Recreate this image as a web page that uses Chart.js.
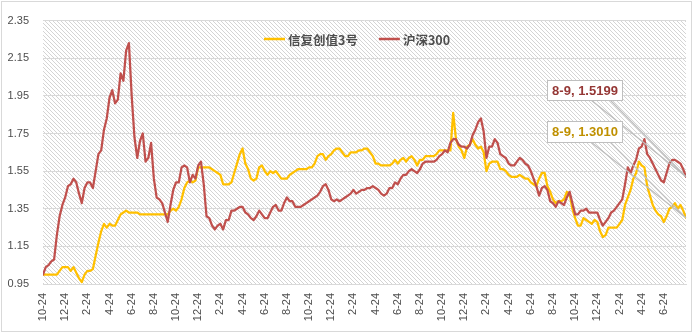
<!DOCTYPE html>
<html>
<head>
<meta charset="utf-8">
<script src="https://cdn.jsdelivr.net/npm/chart.js@4.4.1/dist/chart.umd.min.js"></script>
<style>
  body { margin: 0; background: #fff; }
</style>
</head>
<body>
<canvas id="navChart" width="694" height="334"></canvas>
<script>
// weekly net value, both rebased to 1.00 on the first date
const fundName = "信复创值3号";
const indexName = "沪深300";

const fundNav = [
  1.00, 1.00, 1.00, 1.00, 1.00, 1.00, 1.02, 1.04, 1.04, 1.04,
  1.02, 1.04, 1.01, 0.98, 0.96, 1.00, 1.02, 1.02, 1.03, 1.10,
  1.17, 1.23, 1.27, 1.25, 1.27, 1.26, 1.26, 1.29, 1.32, 1.33,
  1.34, 1.33, 1.33, 1.33, 1.33, 1.32, 1.32, 1.32, 1.32, 1.32,
  1.32, 1.32, 1.32, 1.32, 1.32, 1.32, 1.34, 1.35, 1.34, 1.36,
  1.40, 1.46, 1.49, 1.50, 1.49, 1.50, 1.57, 1.57, 1.57, 1.57,
  1.57, 1.56, 1.55, 1.54, 1.53, 1.48, 1.48, 1.48, 1.49, 1.54,
  1.59, 1.64, 1.67, 1.59, 1.56, 1.51, 1.50, 1.51, 1.57, 1.58,
  1.55, 1.53, 1.55, 1.54, 1.55, 1.53, 1.51, 1.51, 1.51, 1.53,
  1.54, 1.55, 1.56, 1.56, 1.56, 1.56, 1.57, 1.57, 1.59, 1.63,
  1.64, 1.64, 1.61, 1.63, 1.64, 1.66, 1.67, 1.67, 1.65, 1.63,
  1.63, 1.65, 1.65, 1.65, 1.66, 1.66, 1.67, 1.67, 1.65, 1.63,
  1.59, 1.59, 1.58, 1.58, 1.58, 1.58, 1.59, 1.61, 1.59, 1.61,
  1.62, 1.60, 1.62, 1.63, 1.61, 1.58, 1.61, 1.61, 1.63, 1.63,
  1.63, 1.63, 1.64, 1.66, 1.66, 1.66, 1.66, 1.66, 1.86, 1.72,
  1.68, 1.66, 1.62, 1.68, 1.69, 1.72, 1.69, 1.67, 1.68, 1.65,
  1.55, 1.59, 1.60, 1.60, 1.60, 1.56, 1.56, 1.55, 1.53, 1.52,
  1.52, 1.52, 1.53, 1.52, 1.51, 1.51, 1.49, 1.48, 1.47, 1.51,
  1.54, 1.54, 1.47, 1.44, 1.40, 1.38, 1.39, 1.39, 1.40, 1.44,
  1.43, 1.35, 1.30, 1.26, 1.26, 1.30, 1.29, 1.28, 1.27, 1.29,
  1.28, 1.23, 1.20, 1.21, 1.25, 1.25, 1.25, 1.25, 1.27, 1.29,
  1.37, 1.41, 1.45, 1.51, 1.54, 1.60, 1.58, 1.57, 1.47, 1.42,
  1.37, 1.34, 1.32, 1.31, 1.28, 1.31, 1.35, 1.36, 1.38, 1.35,
  1.37, 1.34, 1.3010
];

const indexNav = [
  1.00, 1.04, 1.05, 1.07, 1.08, 1.21, 1.31, 1.37, 1.41, 1.47,
  1.48, 1.51, 1.49, 1.43, 1.38, 1.46, 1.49, 1.49, 1.46, 1.55,
  1.64, 1.66, 1.77, 1.83, 1.94, 1.98, 1.91, 1.93, 2.07, 2.03,
  2.19, 2.23, 1.95, 1.73, 1.62, 1.71, 1.75, 1.60, 1.62, 1.70,
  1.51, 1.41, 1.40, 1.38, 1.33, 1.28, 1.37, 1.45, 1.49, 1.49,
  1.57, 1.58, 1.57, 1.49, 1.53, 1.51, 1.58, 1.60, 1.48, 1.31,
  1.30, 1.26, 1.24, 1.26, 1.27, 1.24, 1.29, 1.29, 1.34, 1.34,
  1.35, 1.36, 1.36, 1.33, 1.32, 1.30, 1.29, 1.31, 1.34, 1.32,
  1.30, 1.30, 1.33, 1.36, 1.37, 1.34, 1.34, 1.38, 1.41, 1.39,
  1.39, 1.36, 1.36, 1.36, 1.37, 1.38, 1.39, 1.40, 1.41, 1.42,
  1.44, 1.47, 1.48, 1.45, 1.40, 1.39, 1.40, 1.39, 1.40, 1.41,
  1.42, 1.43, 1.45, 1.43, 1.44, 1.45, 1.45, 1.46, 1.46, 1.47,
  1.46, 1.45, 1.43, 1.42, 1.43, 1.46, 1.46, 1.49, 1.48, 1.51,
  1.53, 1.53, 1.55, 1.56, 1.55, 1.54, 1.56, 1.59, 1.60, 1.60,
  1.60, 1.60, 1.61, 1.63, 1.64, 1.66, 1.65, 1.70, 1.72, 1.72,
  1.69, 1.68, 1.68, 1.67, 1.69, 1.74, 1.77, 1.81, 1.83, 1.76,
  1.62, 1.68, 1.68, 1.72, 1.70, 1.64, 1.63, 1.62, 1.59, 1.58,
  1.58, 1.60, 1.62, 1.61, 1.59, 1.58, 1.55, 1.51, 1.47, 1.42,
  1.46, 1.47, 1.45, 1.39, 1.38, 1.36, 1.39, 1.38, 1.37, 1.41,
  1.44, 1.38, 1.32, 1.32, 1.34, 1.34, 1.35, 1.33, 1.33, 1.33,
  1.33, 1.29, 1.26, 1.28, 1.30, 1.33, 1.34, 1.36, 1.38, 1.40,
  1.48, 1.57, 1.54, 1.58, 1.61, 1.67, 1.68, 1.72, 1.64, 1.62,
  1.59, 1.56, 1.53, 1.50, 1.49, 1.54, 1.59, 1.61, 1.61, 1.60,
  1.59, 1.56, 1.5199
];

// x runs in months from the first date; one point per quarter month
const monthsPerPoint = 0.25;

// date labels, one every two months
const tickLabels = [
  "10-24", "12-24", "2-24", "4-24", "6-24", "8-24",
  "10-24", "12-24", "2-24", "4-24", "6-24", "8-24",
  "10-24", "12-24", "2-24", "4-24", "6-24", "8-24",
  "10-24", "12-24", "2-24", "4-24", "6-24", "8-24",
  "10-24", "12-24", "2-24", "4-24", "6-24"
];
const monthsPerTick = 2;
const lastDateLabel = "8-9";

const yTicks = [0.95, 1.15, 1.35, 1.55, 1.75, 1.95, 2.15, 2.35];

const toPoints = (values) => values.map((v, i) => ({ x: i * monthsPerPoint, y: v }));

const colors = { fund: "#FFC000", index: "#C0504D" };

const decorations = {
  id: "decorations",
  beforeDraw(chart) {
    // diagonal hatch behind the plot, written pixel by pixel
    const { ctx, chartArea: a } = chart;
    const left = Math.round(a.left), top = Math.round(a.top);
    const w = Math.round(a.right) - left, h = Math.round(a.bottom) - top;
    const img = ctx.createImageData(w, h);
    for (let y = 0; y < h; y++) {
      for (let x = 0; x < w; x++) {
        const k = (y * w + x) * 4;
        const onStripe = ((x + left) - (y + top)) % 4 === 0;
        const c = onStripe ? 212 : 255;
        img.data[k] = c;
        img.data[k + 1] = c;
        img.data[k + 2] = c;
        img.data[k + 3] = 255;
      }
    }
    ctx.putImageData(img, left, top);
  },
  afterDraw(chart) {
    const { ctx } = chart;
    ctx.save();

    // outer frame
    ctx.strokeStyle = "#d9d9d9";
    ctx.lineWidth = 1;
    ctx.strokeRect(1.5, 1.5, 690, 330);

    // legend inside the plot, line samples
    let x = 264;
    const ly = 39;
    ctx.font = "bold 12.5px 'Noto Sans CJK SC', sans-serif";
    ctx.textBaseline = "middle";
    [[fundName, colors.fund], [indexName, colors.index]].forEach(([label, color]) => {
      ctx.strokeStyle = color;
      ctx.lineWidth = 2.5;
      ctx.beginPath();
      ctx.moveTo(x, ly);
      ctx.lineTo(x + 21, ly);
      ctx.stroke();
      ctx.fillStyle = "#4d4d4d";
      ctx.fillText(label, x + 24, ly + 1);
      x += 24 + ctx.measureText(label).width + 21;
    });

    // callouts on the last value of each series
    const callouts = [
      { ds: 0, box: { x: 547, y: 80, w: 75, h: 20 }, color: "#953735" },
      { ds: 1, box: { x: 547, y: 121, w: 75, h: 21 }, color: "#BF9000" }
    ];
    callouts.forEach(({ ds, box, color }) => {
      const meta = chart.getDatasetMeta(ds);
      const last = meta.data.length - 1;
      const pt = meta.data[last];
      const value = chart.data.datasets[ds].data[last].y;
      const bottom = box.y + box.h;

      ctx.strokeStyle = "#bdbdbd";
      ctx.lineWidth = 1.2;
      ctx.beginPath();
      ctx.moveTo(box.x + 44, bottom);
      ctx.lineTo(pt.x, pt.y);
      ctx.moveTo(box.x + 63, bottom);
      ctx.lineTo(pt.x, pt.y);
      ctx.stroke();

      ctx.fillStyle = "#ffffff";
      ctx.fillRect(box.x, box.y, box.w, box.h);
      ctx.strokeStyle = "#bfbfbf";
      ctx.lineWidth = 1;
      ctx.strokeRect(box.x + 0.5, box.y + 0.5, box.w, box.h);

      ctx.fillStyle = color;
      ctx.font = "bold 13px 'Liberation Sans', Arial, sans-serif";
      ctx.textAlign = "center";
      ctx.textBaseline = "middle";
      ctx.fillText(lastDateLabel + ", " + value.toFixed(4), box.x + box.w / 2 + 0.5, box.y + box.h / 2 + 1);
      ctx.textAlign = "left";
    });

    ctx.restore();
  }
};

Chart.defaults.font.family = "'Liberation Sans', Arial, sans-serif";
Chart.defaults.color = "#4d4d4d";

new Chart(document.getElementById("navChart"), {
  type: "line",
  data: {
    datasets: [
      {
        label: indexName,
        data: toPoints(indexNav),
        borderColor: colors.index,
        backgroundColor: colors.index,
        borderWidth: 2.25,
        order: 0
      },
      {
        label: fundName,
        data: toPoints(fundNav),
        borderColor: colors.fund,
        backgroundColor: colors.fund,
        borderWidth: 2.25,
        order: 1
      }
    ]
  },
  options: {
    responsive: false,
    animation: false,
    devicePixelRatio: 1,
    layout: { padding: { top: 9, right: 8, bottom: 0, left: 0 } },
    elements: {
      point: { radius: 0 },
      line: { tension: 0, borderJoinStyle: "round", borderCapStyle: "round" }
    },
    plugins: {
      legend: { display: false },
      tooltip: { enabled: false }
    },
    scales: {
      x: {
        type: "linear",
        min: 0,
        max: (indexNav.length - 1) * monthsPerPoint,
        afterBuildTicks: (scale) => {
          scale.ticks = tickLabels.map((_, i) => ({ value: i * monthsPerTick }));
        },
        afterFit: (scale) => { scale.height = 50; },
        grid: { display: false, drawTicks: false },
        border: { display: true, color: "#d9d9d9" },
        ticks: {
          autoSkip: false,
          minRotation: 90,
          maxRotation: 90,
          padding: 9,
          font: { size: 11 },
          callback: (v, i) => tickLabels[i]
        }
      },
      y: {
        min: yTicks[0],
        max: yTicks[yTicks.length - 1],
        afterBuildTicks: (scale) => {
          scale.ticks = yTicks.map((v) => ({ value: v }));
        },
        afterFit: (scale) => { scale.width = 43; },
        grid: { color: "#d9d9d9", drawTicks: false },
        border: { display: false },
        ticks: {
          padding: 14,
          font: { size: 11 },
          callback: (v) => v.toFixed(2)
        }
      }
    }
  },
  plugins: [decorations]
});
</script>
</body>
</html>
